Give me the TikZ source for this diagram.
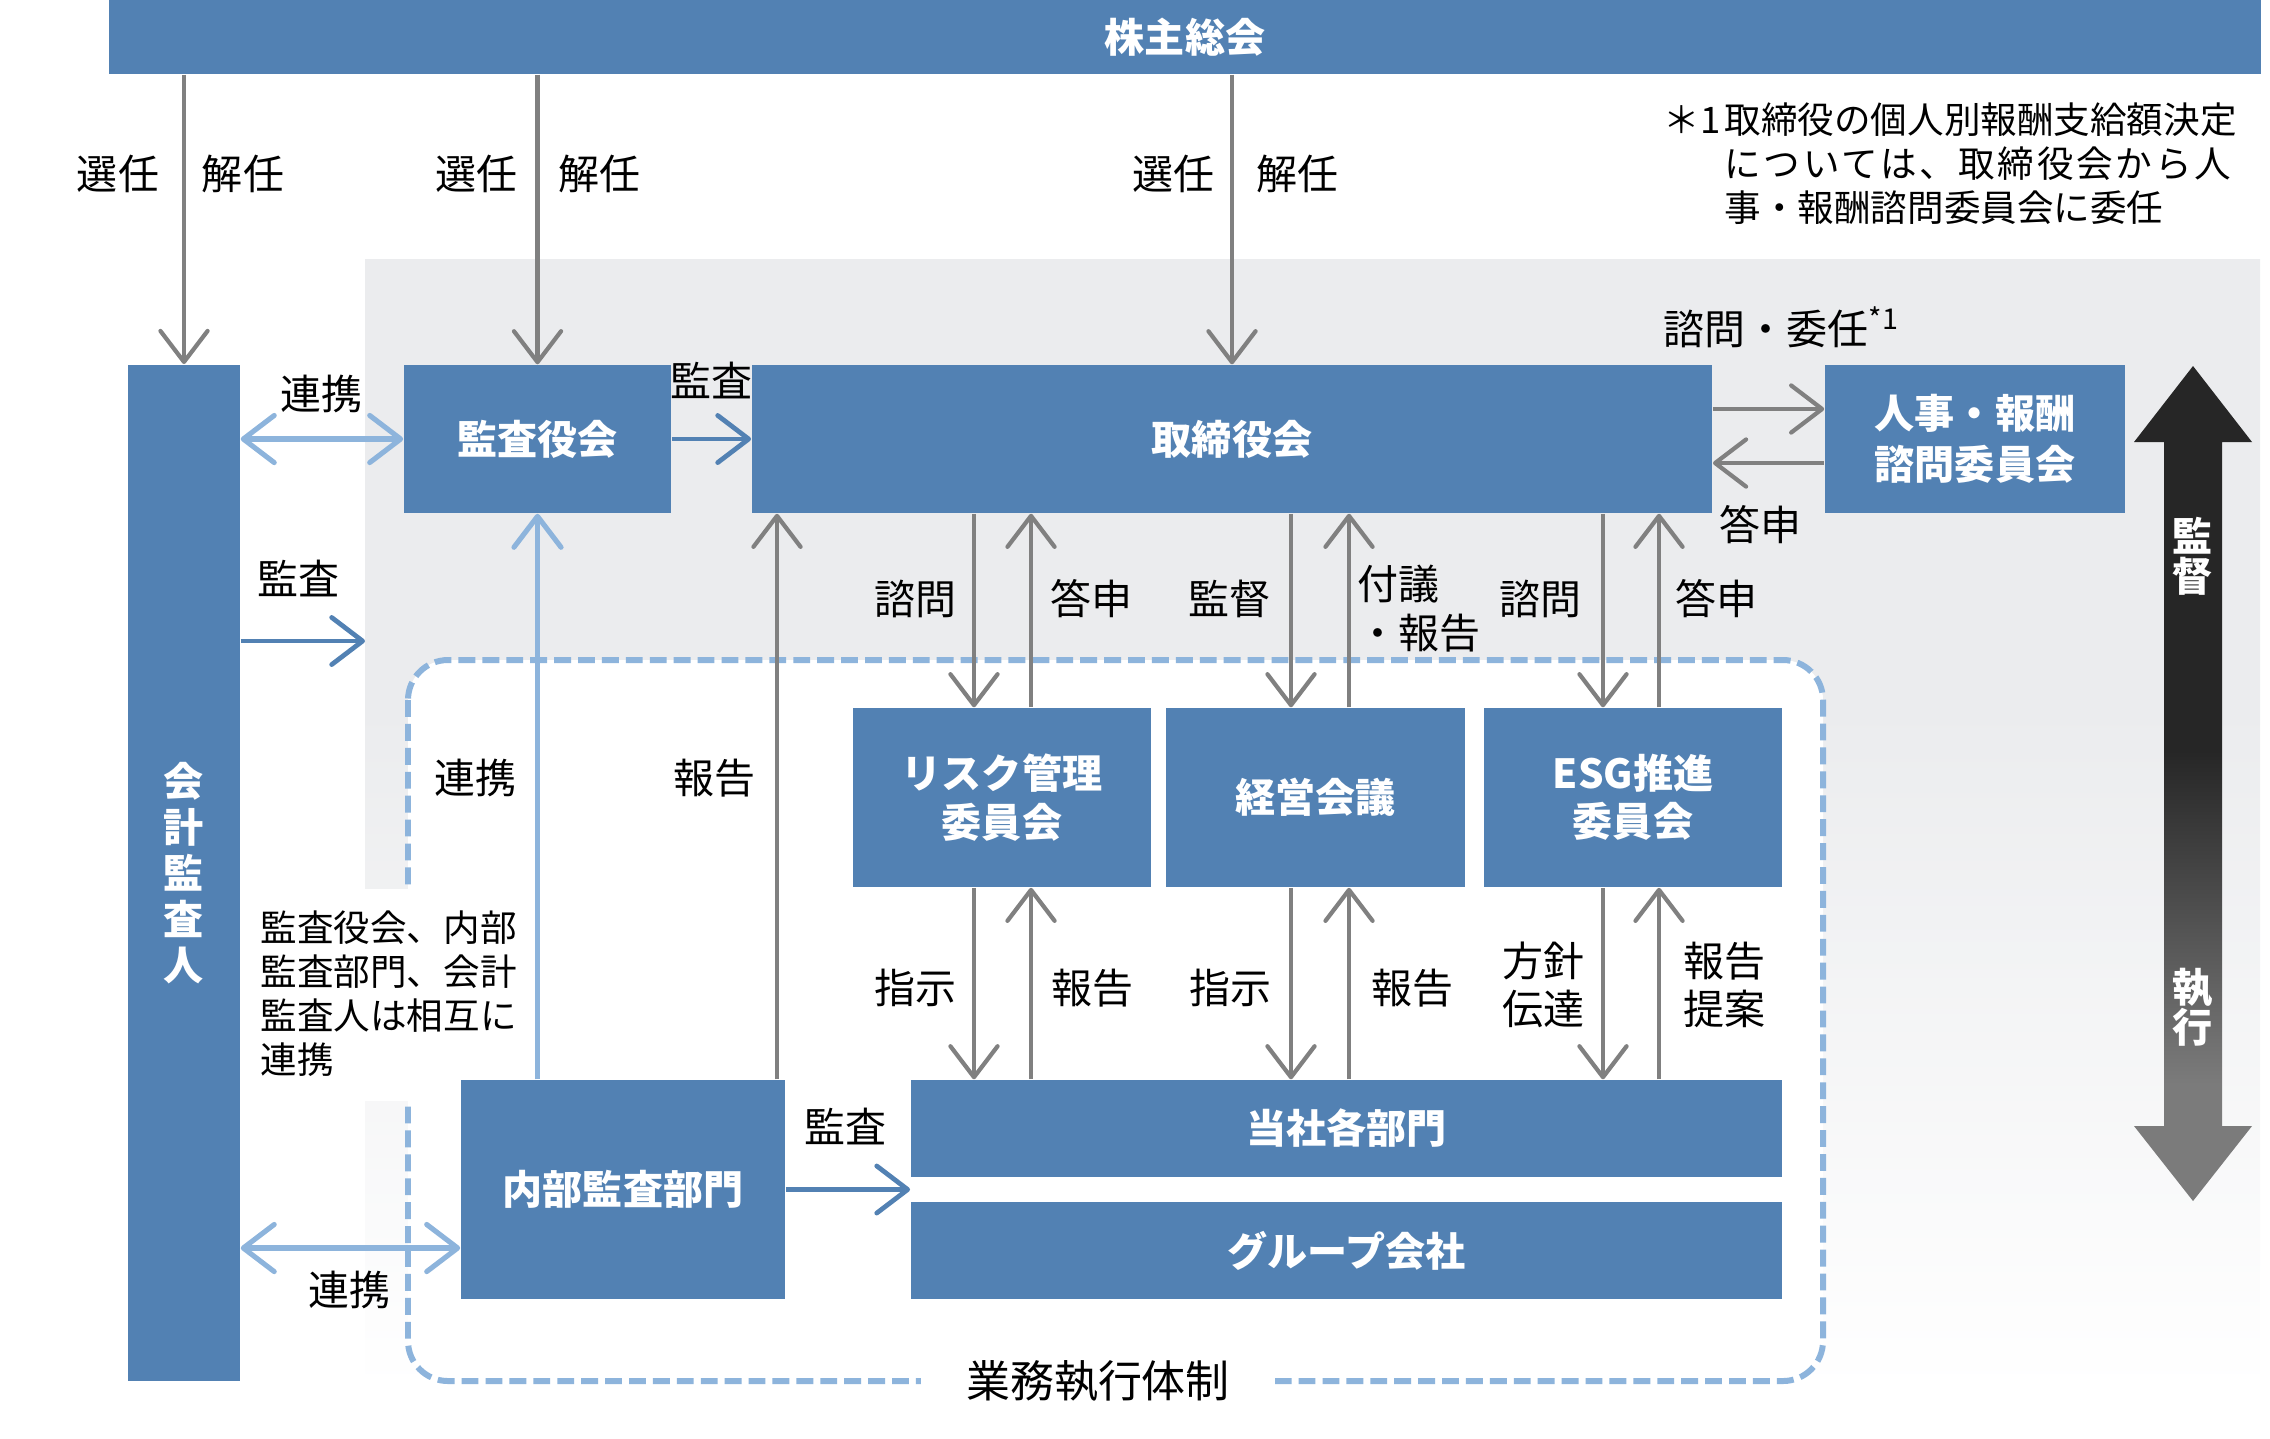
\documentclass[tikz,border=0pt]{standalone}
\usepackage{fontspec}
\setmainfont{Noto Sans CJK JP}
\usetikzlibrary{arrows.meta}
\definecolor{boxblue}{HTML}{5281B3}
\definecolor{garr}{HTML}{808080}
\definecolor{lblue}{HTML}{8DB4DC}
\definecolor{bggrey}{HTML}{EBECEE}
\definecolor{gtop}{HTML}{262626}
\definecolor{gbot}{HTML}{7B7B7B}
\pgfdeclareverticalshading{bgshade}{100bp}{color(0bp)=(white); color(27bp)=(white); color(56bp)=(bggrey); color(100bp)=(bggrey)}
\pgfdeclareverticalshading{arrshade}{100bp}{color(0bp)=(gbot); color(32bp)=(gbot); color(52bp)=(gtop); color(100bp)=(gtop)}
\newcommand\bxfont{\bfseries\fontsize{11.4pt}{13.7pt}\selectfont}
\newcommand\lbfont{\fontsize{11.66pt}{13pt}\selectfont}
\newcommand\smfont{\fontsize{10.4pt}{12.5pt}\selectfont}
\begin{document}
\begin{tikzpicture}[x=0.01cm,y=-0.01cm,
  >={Straight Barb[length=8.8pt,width=13.4pt,round]},
  box/.style={fill=boxblue,text=white,font=\bxfont,align=center,inner sep=0pt},
  lbl/.style={font=\lbfont,inner sep=0pt,align=center},
  garrow/.style={draw=garr,line width=1.2pt,->},
  barrow/.style={draw=boxblue,line width=1.35pt,->},
  larrow/.style={draw=lblue,line width=1.45pt},
  vtext/.style={text=white,font=\bfseries\fontsize{11.4pt}{11.4pt}\selectfont,align=center,inner sep=0pt}]
\useasboundingbox (0,0) rectangle (2270,1438);
% background
\shade[shading=bgshade] (365,259) rectangle (2260,1438);
\draw[lblue,line width=1.7pt,dash pattern=on 4.8pt off 2pt,rounded corners=0.4cm,fill=white] (408,660) rectangle (1823,1381);
\fill[white] (245,889) rectangle (425,1101);
\node[fill=white,inner xsep=0.45cm,inner ysep=0.05cm,font=\fontsize{12.5pt}{14pt}\selectfont] (gyomu) at (1098,1381) {業務執行体制};

% boxes
\node[box,minimum width=21.5cm,minimum height=0.74cm] (soukai) at (1185,37) {株主総会};
\node[box,minimum width=1.12cm,minimum height=10.16cm,font=\bfseries\fontsize{11.4pt}{13.1pt}\selectfont] (kaikei) at (184,873) {会\\計\\監\\査\\人};
\node[box,minimum width=2.67cm,minimum height=1.48cm] (kansayaku) at (537.5,439) {監査役会};
\node[box,minimum width=9.6cm,minimum height=1.48cm] (torishimari) at (1232,439) {取締役会};
\node[box,minimum width=3.0cm,minimum height=1.48cm] (jinji) at (1975,439) {人事・報酬\\[0.7pt]諮問委員会};
\node[box,minimum width=2.98cm,minimum height=1.79cm] (risk) at (1002,797.5) {リスク管理\\委員会};
\node[box,minimum width=2.99cm,minimum height=1.79cm] (keiei) at (1315.5,797.5) {経営会議};
\node[box,minimum width=2.98cm,minimum height=1.79cm] (esg) at (1633,797.5) {ESG推進\\委員会};
\node[box,minimum width=8.71cm,minimum height=0.97cm] (tousha) at (1346.5,1128.5) {当社各部門};
\node[box,minimum width=8.71cm,minimum height=0.97cm] (group) at (1346.5,1250.5) {グループ会社};
\node[box,minimum width=3.24cm,minimum height=2.19cm] (naibu) at (623,1189.5) {内部監査部門};

% supervise / execute arrow
\shade[shading=arrshade] (2193,366) -- (2252,442) -- (2222,442) -- (2222,1126) -- (2252,1126) -- (2193,1201) -- (2134,1126) -- (2164,1126) -- (2164,442) -- (2134,442) -- cycle;
\node[vtext] (kantoku) at (2193,556) {監\\督};
\node[vtext] (shikkou) at (2193,1007.5) {執\\行};

% helper coordinates
\coordinate (kt) at (365,641);
\coordinate (r2) at (0,1248);
\coordinate (c777) at (777,0);

% from shareholders
\draw[garrow] (soukai.south -| kaikei.north) -- (kaikei.north);
\draw[garrow] (soukai.south -| kansayaku.north) -- (kansayaku.north);
\draw[garrow] (soukai.south -| torishimari.north) -- (torishimari.north);
\node[lbl] (s1) at (118,174) {選任};
\node[lbl] (k1) at (243,174) {解任};
\node[lbl] (s2) at (476,174) {選任};
\node[lbl] (k2) at (599,174) {解任};
\node[lbl] (s3) at (1173,174) {選任};
\node[lbl] (k3) at (1297,174) {解任};

% top row connections
\draw[larrow,<->] (kaikei.east |- kansayaku.west) -- (kansayaku.west);
\node[lbl] (renkei1) at (321,394) {連携};
\draw[barrow] (kansayaku.east) -- (torishimari.west);
\node[lbl] (kansa1) at (711,380) {監査};
\draw[garrow] ([yshift=0.3cm]torishimari.east) -- ([yshift=0.3cm]jinji.west);
\draw[garrow] ([yshift=-0.24cm]jinji.west) -- ([yshift=-0.24cm]torishimari.east);
\node[lbl,anchor=west] (ishin) at (1663,327) {諮問・委任\textsuperscript{*1}};
\node[lbl] (toushin0) at (1760,525) {答申};

% footnote
\node[font=\smfont,align=left,anchor=north west,inner sep=0pt] (note) at (1663,102) {＊1\hspace{0.04cm}取締役の個人別報酬支給額決定\\\phantom{＊1\hspace{0.04cm}}{\addfontfeatures{LetterSpace=7.5}については、取締役会から人}\\\phantom{＊1\hspace{0.04cm}}事・報酬諮問委員会に委任};

% auditor
\draw[barrow] (kaikei.east |- kt) -- (kt);
\node[lbl] (kansa2) at (298,578) {監査};
\draw[larrow,<->] (kaikei.east |- r2) -- (naibu.west |- r2);
\node[lbl] (renkei3) at (349,1290) {連携};
\node[font=\smfont,align=left,anchor=west,inner sep=0pt] (mutual) at (260,993.5) {監査役会、内部\\監査部門、会計\\監査人は相互に\\連携};

% internal audit
\draw[larrow,->] (naibu.north -| kansayaku.south) -- (kansayaku.south);
\node[lbl] (renkei2) at (475,778) {連携};
\draw[garrow] (naibu.north -| c777) -- (torishimari.south -| c777);
\node[lbl] (houkoku0) at (714,778) {報告};
\draw[barrow] (naibu.east) -- (naibu.east -| tousha.west);
\node[lbl] (kansa3) at (845,1126) {監査};

% board <-> committees
\draw[garrow] ([xshift=-0.28cm]risk.north |- torishimari.south) -- ([xshift=-0.28cm]risk.north);
\draw[garrow] ([xshift=0.29cm]risk.north) -- ([xshift=0.29cm]risk.north |- torishimari.south);
\draw[garrow] ([xshift=-0.245cm]keiei.north |- torishimari.south) -- ([xshift=-0.245cm]keiei.north);
\draw[garrow] ([xshift=0.335cm]keiei.north) -- ([xshift=0.335cm]keiei.north |- torishimari.south);
\draw[garrow] ([xshift=-0.30cm]esg.north |- torishimari.south) -- ([xshift=-0.30cm]esg.north);
\draw[garrow] ([xshift=0.26cm]esg.north) -- ([xshift=0.26cm]esg.north |- torishimari.south);
\node[lbl] (shimon1) at (915,599) {諮問};
\node[lbl] (toushin1) at (1091,599) {答申};
\node[lbl] (kantoku1) at (1229,599) {監督};
\node[lbl,align=left,anchor=west,font=\fontsize{11.66pt}{14pt}\selectfont] (fugi) at (1357,608.5) {付議\\・報告};
\node[lbl] (shimon2) at (1540,599) {諮問};
\node[lbl] (toushin2) at (1716,599) {答申};

% committees <-> departments
\draw[garrow] ([xshift=-0.28cm]risk.south) -- ([xshift=-0.28cm]risk.south |- tousha.north);
\draw[garrow] ([xshift=0.29cm]risk.south |- tousha.north) -- ([xshift=0.29cm]risk.south);
\draw[garrow] ([xshift=-0.245cm]keiei.south) -- ([xshift=-0.245cm]keiei.south |- tousha.north);
\draw[garrow] ([xshift=0.335cm]keiei.south |- tousha.north) -- ([xshift=0.335cm]keiei.south);
\draw[garrow] ([xshift=-0.30cm]esg.south) -- ([xshift=-0.30cm]esg.south |- tousha.north);
\draw[garrow] ([xshift=0.26cm]esg.south |- tousha.north) -- ([xshift=0.26cm]esg.south);
\node[lbl] (shiji1) at (915,988) {指示};
\node[lbl] (houkoku1) at (1092,988) {報告};
\node[lbl] (shiji2) at (1230,988) {指示};
\node[lbl] (houkoku2) at (1412,988) {報告};
\node[lbl,font=\fontsize{11.66pt}{13.7pt}\selectfont] (houshin) at (1543,984.5) {方針\\伝達};
\node[lbl,font=\fontsize{11.66pt}{13.7pt}\selectfont] (teian) at (1724,984.5) {報告\\提案};
\end{tikzpicture}
\end{document}
